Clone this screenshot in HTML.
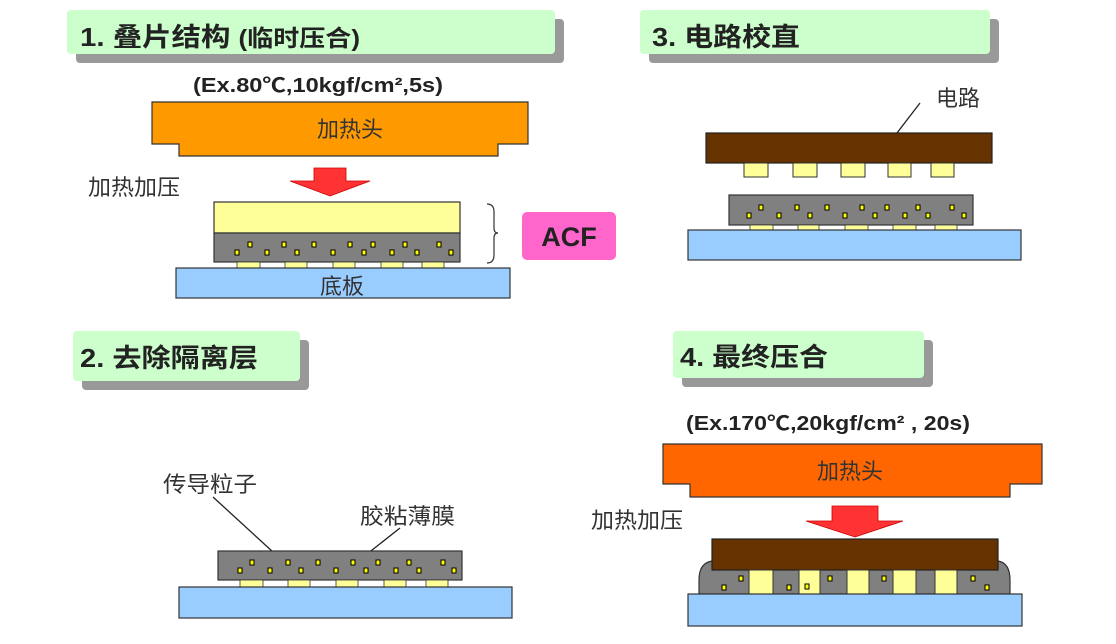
<!DOCTYPE html>
<html><head><meta charset="utf-8"><style>
html,body{margin:0;padding:0;background:#fff;}
svg{display:block;}
text{font-family:"Liberation Sans","Noto Sans CJK SC",sans-serif;}
</style></head><body>
<svg width="1116" height="644" viewBox="0 0 1116 644" xmlns="http://www.w3.org/2000/svg">
<!-- Title boxes -->
<rect x="76" y="19" width="488" height="44" rx="4" fill="#999"/>
<rect x="67" y="10" width="488" height="44" rx="4" fill="#ccffcc"/>
<text x="80" y="46" font-size="26" font-weight="bold" fill="#222" textLength="280" lengthAdjust="spacingAndGlyphs">1. 叠片结构 <tspan font-size="23">(临时压合)</tspan></text>

<rect x="649" y="19" width="350" height="44" rx="4" fill="#999"/>
<rect x="640" y="10" width="350" height="44" rx="4" fill="#ccffcc"/>
<text x="652" y="46" font-size="26" font-weight="bold" fill="#222" textLength="148" lengthAdjust="spacingAndGlyphs">3. 电路校直</text>

<rect x="82" y="340" width="227" height="50" rx="4" fill="#999"/>
<rect x="73" y="331" width="227" height="50" rx="4" fill="#ccffcc"/>
<text x="80" y="367" font-size="26" font-weight="bold" fill="#222" textLength="178" lengthAdjust="spacingAndGlyphs">2. 去除隔离层</text>

<rect x="682" y="340" width="251" height="47" rx="4" fill="#999"/>
<rect x="673" y="331" width="251" height="47" rx="4" fill="#ccffcc"/>
<text x="680" y="366" font-size="26" font-weight="bold" fill="#222" textLength="148" lengthAdjust="spacingAndGlyphs">4. 最终压合</text>

<!-- Panel 1 -->
<text x="193" y="92" font-size="20" font-weight="bold" fill="#222" textLength="250" lengthAdjust="spacingAndGlyphs">(Ex.80℃,10kgf/cm²,5s)</text>
<path d="M152,102 H528 V144 H498 V156 H179 V144 H152 Z" fill="#ff9900" stroke="#333" stroke-width="1.2"/>
<text x="350" y="137" font-size="22" text-anchor="middle" fill="#333">加热头</text>
<text x="88" y="195" font-size="22" fill="#333" textLength="92" lengthAdjust="spacingAndGlyphs">加热加压</text>
<path d="M314,168 H346 V181 H370 L330,196 L290,181 H314 Z" fill="#ff3333" stroke="#c00" stroke-width="0.8"/>
<rect x="214" y="202" width="246" height="31" fill="#ffff99" stroke="#333" stroke-width="1.2"/>
<rect x="214" y="233" width="246" height="29" fill="#808080" stroke="#333" stroke-width="1.2"/>
<g fill="#ffff99" stroke="#333" stroke-width="0.8">
<rect x="237" y="262" width="23" height="6"/><rect x="285" y="262" width="22" height="6"/><rect x="333" y="262" width="22" height="6"/><rect x="381" y="262" width="22" height="6"/><rect x="422" y="262" width="22" height="6"/>
</g>
<g fill="#ffff00" stroke="#000" stroke-width="1">
<rect x="235" y="250" width="4" height="5"/><rect x="248" y="242" width="4" height="5"/><rect x="265" y="250" width="4" height="5"/><rect x="282" y="242" width="4" height="5"/><rect x="295" y="250" width="4" height="5"/><rect x="312" y="242" width="4" height="5"/><rect x="331" y="250" width="4" height="5"/><rect x="348" y="242" width="4" height="5"/><rect x="362" y="250" width="4" height="5"/><rect x="371" y="242" width="4" height="5"/><rect x="390" y="250" width="4" height="5"/><rect x="403" y="242" width="4" height="5"/><rect x="415" y="250" width="4" height="5"/><rect x="437" y="242" width="4" height="5"/><rect x="449" y="250" width="4" height="5"/>
</g>
<rect x="176" y="268" width="334" height="30" fill="#99ccff" stroke="#333" stroke-width="1.2"/>
<text x="342" y="294" font-size="22" text-anchor="middle" fill="#333">底板</text>
<path d="M487,204 Q494,204 494,212 V228 Q494,233 498,233 Q494,233 494,238 V255 Q494,263 487,263" fill="none" stroke="#333" stroke-width="1.2"/>
<rect x="522" y="212" width="94" height="48" rx="5" fill="#ff66cc"/>
<text x="569" y="246" font-size="27" font-weight="bold" text-anchor="middle" fill="#222">ACF</text>

<!-- Panel 3 -->
<text x="936" y="106" font-size="22" fill="#333">电路</text>
<line x1="920" y1="103" x2="887" y2="146" stroke="#222" stroke-width="1.3"/>
<rect x="706" y="133" width="286" height="30" fill="#663300" stroke="#222" stroke-width="1.2"/>
<g fill="#ffff99" stroke="#333" stroke-width="1">
<rect x="744" y="163" width="24" height="14"/><rect x="793" y="163" width="24" height="14"/><rect x="841" y="163" width="24" height="14"/><rect x="888" y="163" width="23" height="14"/><rect x="931" y="163" width="23" height="14"/>
</g>
<rect x="729" y="195" width="244" height="30" fill="#808080" stroke="#333" stroke-width="1.2"/>
<g fill="#ffff99" stroke="#333" stroke-width="0.8">
<rect x="750" y="225" width="23" height="5"/><rect x="798" y="225" width="21" height="5"/><rect x="845" y="225" width="23" height="5"/><rect x="893" y="225" width="23" height="5"/><rect x="935" y="225" width="22" height="5"/>
</g>
<g fill="#ffff00" stroke="#000" stroke-width="1">
<rect x="747" y="213" width="4" height="5"/><rect x="759" y="205" width="4" height="5"/><rect x="777" y="213" width="4" height="5"/><rect x="795" y="205" width="4" height="5"/><rect x="808" y="213" width="4" height="5"/><rect x="825" y="205" width="4" height="5"/><rect x="843" y="213" width="4" height="5"/><rect x="860" y="205" width="4" height="5"/><rect x="873" y="213" width="4" height="5"/><rect x="885" y="205" width="4" height="5"/><rect x="903" y="213" width="4" height="5"/><rect x="916" y="205" width="4" height="5"/><rect x="926" y="213" width="4" height="5"/><rect x="950" y="205" width="4" height="5"/><rect x="962" y="213" width="4" height="5"/>
</g>
<rect x="688" y="230" width="333" height="30" fill="#99ccff" stroke="#333" stroke-width="1.2"/>

<!-- Panel 2 -->
<text x="163" y="492" font-size="22" fill="#333" textLength="94" lengthAdjust="spacingAndGlyphs">传导粒子</text>
<text x="360" y="524" font-size="22" fill="#333" textLength="95" lengthAdjust="spacingAndGlyphs">胶粘薄膜</text>
<line x1="213" y1="497" x2="285" y2="563" stroke="#222" stroke-width="1.3"/>
<line x1="400" y1="528" x2="362" y2="558" stroke="#222" stroke-width="1.3"/>
<rect x="218" y="551" width="244" height="29" fill="#808080" stroke="#333" stroke-width="1.2"/>
<g fill="#ffff99" stroke="#333" stroke-width="0.8">
<rect x="240" y="580" width="23" height="7"/><rect x="288" y="580" width="22" height="7"/><rect x="336" y="580" width="22" height="7"/><rect x="384" y="580" width="22" height="7"/><rect x="426" y="580" width="22" height="7"/>
</g>
<g fill="#ffff00" stroke="#000" stroke-width="1">
<rect x="238" y="568" width="4" height="5"/><rect x="250" y="560" width="4" height="5"/><rect x="268" y="568" width="4" height="5"/><rect x="286" y="560" width="4" height="5"/><rect x="299" y="568" width="4" height="5"/><rect x="316" y="560" width="4" height="5"/><rect x="334" y="568" width="4" height="5"/><rect x="351" y="560" width="4" height="5"/><rect x="364" y="568" width="4" height="5"/><rect x="376" y="560" width="4" height="5"/><rect x="394" y="568" width="4" height="5"/><rect x="407" y="560" width="4" height="5"/><rect x="417" y="568" width="4" height="5"/><rect x="441" y="560" width="4" height="5"/><rect x="452" y="568" width="4" height="5"/>
</g>
<rect x="179" y="587" width="333" height="31" fill="#99ccff" stroke="#333" stroke-width="1.2"/>

<!-- Panel 4 -->
<text x="686" y="430" font-size="20" font-weight="bold" fill="#222" textLength="284" lengthAdjust="spacingAndGlyphs">(Ex.170℃,20kgf/cm² , 20s)</text>
<path d="M663,444 H1042 V484 H1010 V497 H690 V484 H663 Z" fill="#ff6600" stroke="#333" stroke-width="1.2"/>
<text x="850" y="479" font-size="22" text-anchor="middle" fill="#333">加热头</text>
<text x="591" y="528" font-size="22" fill="#333" textLength="92" lengthAdjust="spacingAndGlyphs">加热加压</text>
<path d="M832,506 H878 V521 H903 L855,537 L806,521 H832 Z" fill="#ff3333" stroke="#c00" stroke-width="0.8"/>
<path d="M699,594 V580 Q699,563 712,561 H998 Q1010,563 1010,580 V594 Z" fill="#808080" stroke="#333" stroke-width="1.2"/>
<rect x="712" y="539" width="286" height="31" fill="#663300" stroke="#222" stroke-width="1.2"/>
<g fill="#ffff99" stroke="#333" stroke-width="1">
<rect x="749" y="570" width="24" height="24"/><rect x="799" y="570" width="21" height="24"/><rect x="847" y="570" width="22" height="24"/><rect x="893" y="570" width="23" height="24"/><rect x="935" y="570" width="22" height="24"/>
</g>
<g fill="#ffff00" stroke="#000" stroke-width="1">
<rect x="722" y="585" width="4" height="5"/><rect x="739" y="576" width="4" height="5"/><rect x="787" y="585" width="4" height="5"/><rect x="805" y="584" width="4" height="5"/><rect x="828" y="576" width="4" height="5"/><rect x="882" y="576" width="4" height="5"/><rect x="971" y="576" width="4" height="5"/><rect x="985" y="585" width="4" height="5"/>
</g>
<rect x="688" y="594" width="334" height="32" fill="#99ccff" stroke="#333" stroke-width="1.2"/>
</svg>
</body></html>
